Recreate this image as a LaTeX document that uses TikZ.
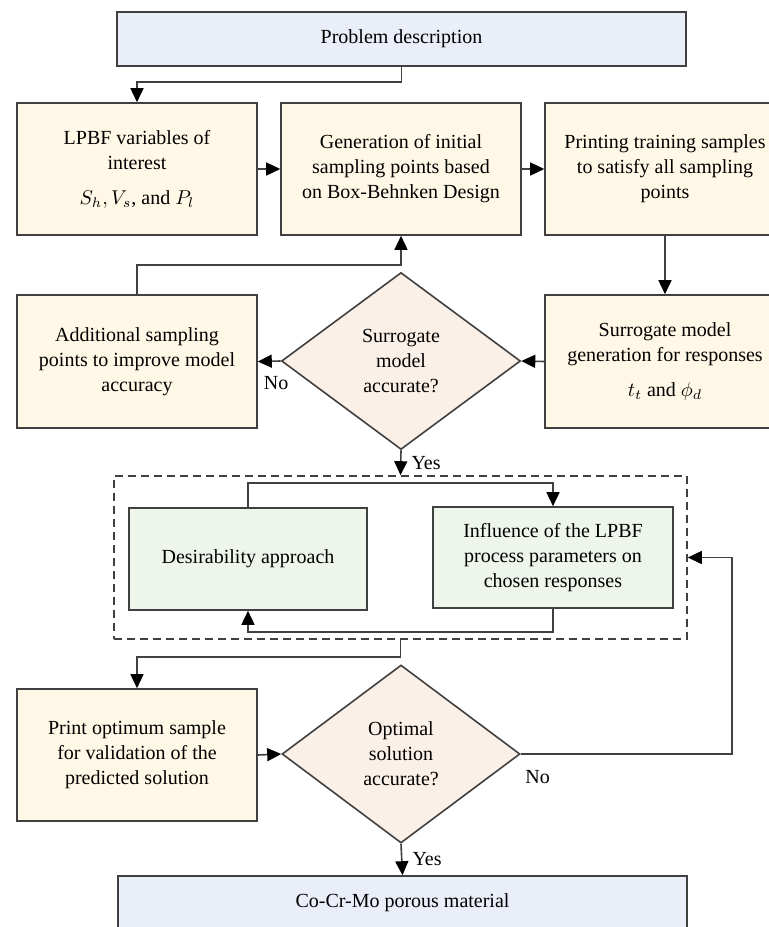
\documentclass[tikz,border=0pt]{standalone}
\usepackage{fontspec}
\setmainfont{Liberation Serif}
\usetikzlibrary{shapes.geometric,arrows.meta,positioning,calc}
\definecolor{probcolor}{RGB}{234,238,248}
\definecolor{stepcolor}{RGB}{255,248,230}
\definecolor{decisioncolor}{RGB}{251,240,232}
\definecolor{optcolor}{RGB}{238,246,236}
\definecolor{linecolor}{RGB}{64,64,64}

\begin{document}
\begin{tikzpicture}[
    x=0.5pt, y=-0.5pt,
    font=\fontsize{10}{12.5}\selectfont,
    terminal/.style={rectangle, draw=linecolor, line width=0.8pt, fill=probcolor, minimum width=284.5pt, minimum height=27pt},
    process/.style={rectangle, draw=linecolor, line width=0.8pt, fill=stepcolor, minimum width=120pt, minimum height=66pt, align=center},
    decision/.style={diamond, draw=linecolor, line width=0.8pt, fill=decisioncolor, minimum width=119.5pt, minimum height=88.5pt, inner sep=0pt, align=center},
    optstep/.style={rectangle, draw=linecolor, line width=0.8pt, fill=optcolor, minimum width=120pt, minimum height=51pt, align=center},
    group/.style={rectangle, draw=linecolor, dash pattern=on 4pt off 2.5pt, line width=0.8pt, minimum width=286.5pt, minimum height=81.5pt},
    flow/.style={-{Triangle[length=7pt, width=6.5pt, color=black]}, draw=linecolor, line width=0.8pt},
    answer/.style={text=black, inner sep=2pt}
]
\useasboundingbox (0,0) rectangle (769,927);

% Start and end
\node[terminal] (prob) at (401.5,39) {Problem description};
\node[terminal] (final) at (402.5,903) {Co-Cr-Mo porous material};

% Sampling stage
\node[process] (vars) at (137,169) {LPBF variables of\\ interest\\[5pt] $S_h, V_s$, and $P_l$};
\node[process] (bbd) at (401,169) {Generation of initial\\ sampling points based\\ on Box-Behnken Design};
\node[process] (print) at (665,169) {Printing training samples\\ to satisfy all sampling\\ points};
\node[process, minimum height=66.5pt] (addpts) at (137,361.5) {Additional sampling\\ points to improve model\\ accuracy};
\node[decision] (surr) at (401,361) {Surrogate\\ model\\ accurate?};
\node[process, minimum height=66.5pt] (resp) at (665,361.5) {Surrogate model\\ generation for responses\\[5pt] $t_t$ and $\phi_d$};

% Optimisation stage
\node[group] (opt) at (400.5,557.5) {};
\node[optstep, minimum width=119pt] (desir) at (248,559) {Desirability approach};
\node[optstep, minimum height=50.5pt] (infl) at (553,557.5) {Influence of the LPBF\\ process parameters on\\ chosen responses};

% Validation stage
\node[process] (valid) at (137,755) {Print optimum sample\\ for validation of the\\ predicted solution};
\node[decision, minimum width=119pt, minimum height=89pt] (optacc) at (401,754) {Optimal\\ solution\\ accurate?};

% Connectors
\draw[flow] (prob.south) -- ++(0,15) -| (vars.north);
\draw[flow] (vars.east) -- (bbd.west);
\draw[flow] (bbd.east) -- (print.west);
\draw[flow] (print.south) -- (resp.north);
\draw[flow] (resp.west) -- (surr.east);
\draw[flow] (surr.west) -- node[answer, pos=0.2, below=5pt] {No} (addpts.east);
\draw[flow] (addpts.north) -- ++(0,-29) -| (bbd.south);
\draw[flow] (surr.south) -- node[answer, right=3pt] {Yes} (opt.north);
\draw[flow] (desir.north) -- ++(0,-24) -| (infl.north);
\draw[flow] (infl.south) -- ++(0,23) -| (desir.south);
\draw[flow] (opt.south) -- ++(0,17) -| (valid.north);
\draw[flow] (valid.east) -- (optacc.west);
\draw[flow] (optacc.east) -- node[answer, pos=0.08, below=6pt] {No} ++(211,0) |- (opt.east);
\draw[flow] (optacc.south) -- node[answer, right=3pt] {Yes} (final.north);

\end{tikzpicture}
\end{document}
